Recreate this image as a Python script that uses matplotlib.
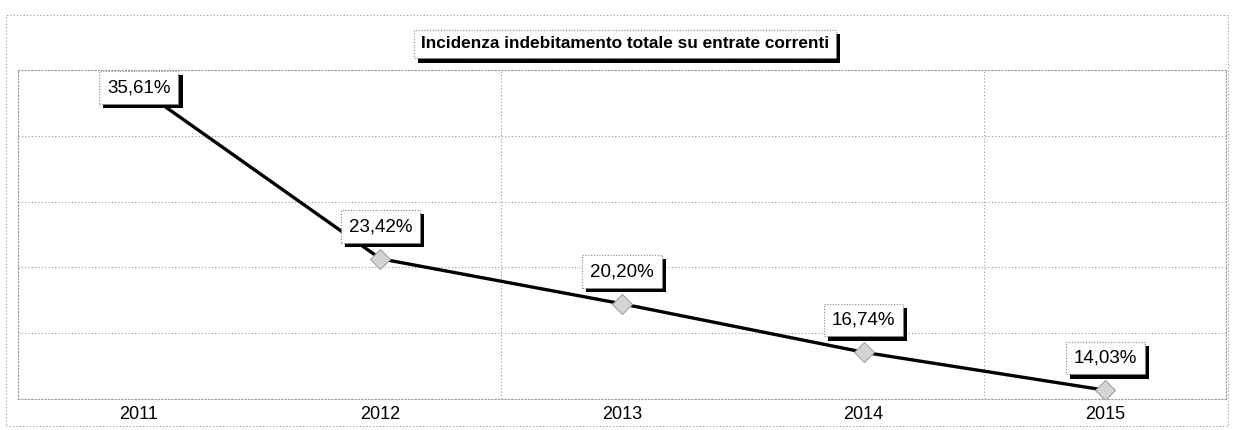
import matplotlib
matplotlib.use("Agg")
import matplotlib.pyplot as plt
import matplotlib.patheffects as pe
import numpy as np
from matplotlib.patches import Rectangle

plt.rcParams['font.family'] = ['Liberation Sans', 'DejaVu Sans']

years = ["2011", "2012", "2013", "2014", "2015"]
values = [35.61, 23.42, 20.20, 16.74, 14.03]
labels = ["35,61%", "23,42%", "20,20%", "16,74%", "14,03%"]
title = "Incidenza indebitamento totale su entrate correnti"

W, H = 1234, 430
fig = plt.figure(figsize=(W / 100, H / 100), dpi=100)
fig.patch.set_facecolor("white")

# outer dotted frame
fig.patches.append(Rectangle((6 / W, 4 / H), 1222 / W, 411 / H, transform=fig.transFigure,
                             fill=False, edgecolor="#999999", linestyle=(0, (1, 2)), linewidth=0.8))

ax = fig.add_axes([18 / W, 1 - 399 / H, (1226 - 18) / W, (399 - 70) / H])
x = np.arange(len(years))
ymin, ymax = 13.4, 36.9
ax.set_xlim(-0.5, len(years) - 0.5)
ax.set_ylim(ymin, ymax)

ax.set_yticks(np.linspace(ymin, ymax, 6))
ax.set_yticklabels([])
ax.set_xticks(x)
ax.set_xticklabels(years, fontsize=13)
ax.tick_params(length=0, pad=5)
ax.set_xticks([-0.5, 1.5, 3.5], minor=True)
ax.tick_params(which="minor", length=0)
ax.grid(axis="y", which="major", color="#9a9a9a", linestyle=(0, (1, 2)), linewidth=0.8)
ax.grid(axis="x", which="minor", color="#9a9a9a", linestyle=(0, (1, 2)), linewidth=0.8)
ax.grid(axis="x", which="major", visible=False)
for s in ax.spines.values():
    s.set_color("#9a9a9a")
    s.set_linestyle((0, (1, 2)))
    s.set_linewidth(0.8)

ax.plot(x, values, color="black", linewidth=2.4, zorder=3)
ax.plot(x, values, linestyle="none", marker="D", markersize=10, markerfacecolor="#d4d4d4",
        markeredgecolor="#a0a0a0", markeredgewidth=0.8, zorder=4)

shadow = [pe.SimplePatchShadow(offset=(3, -3), shadow_rgbFace="black", alpha=1.0), pe.Normal()]

off = 2.3
for xi, v, lab in zip(x, values, labels):
    ty = min(v + off, ymax - 1.25)
    t = ax.annotate(lab, (xi, ty), ha="center", va="center", fontsize=13.5, color="black", zorder=6,
                    bbox=dict(boxstyle="square,pad=0.42", facecolor="white", edgecolor="#888888",
                              linestyle=(0, (1, 1.5)), linewidth=0.8))
    t.get_bbox_patch().set_path_effects(shadow)

tt = fig.text(625 / W, 1 - 44 / H, title, ha="center", va="center", fontsize=12.4, fontweight="bold",
              color="black", bbox=dict(boxstyle="square,pad=0.4", facecolor="white", edgecolor="#888888",
                                       linestyle=(0, (1, 1.5)), linewidth=0.8))
tt.get_bbox_patch().set_path_effects(shadow)

fig.savefig("out.png", dpi=100, facecolor="white")
